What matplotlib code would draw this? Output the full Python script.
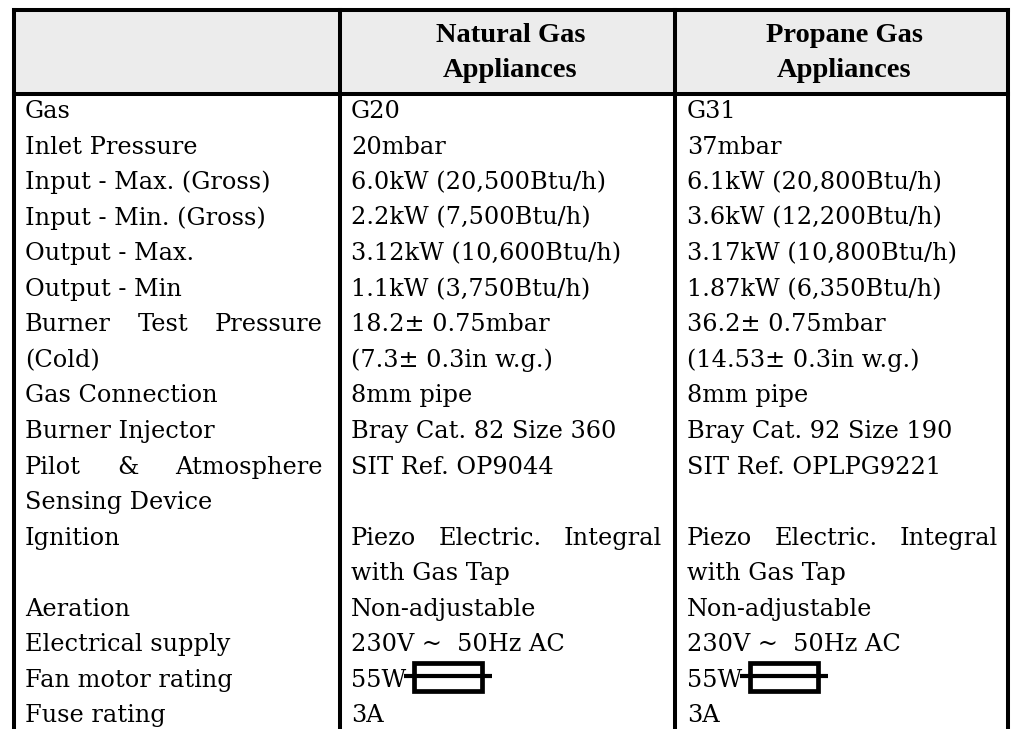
import matplotlib.pyplot as plt
from matplotlib.patches import Rectangle

# table content
header = ["", "Natural Gas\nAppliances", "Propane Gas\nAppliances"]
labels = [["Gas"], ["Inlet Pressure"], ["Input - Max. (Gross)"],
          ["Input - Min. (Gross)"], ["Output - Max."], ["Output - Min"],
          ["Burner Test Pressure", "(Cold)"], ["Gas Connection"],
          ["Burner Injector"], ["Pilot & Atmosphere", "Sensing Device"],
          ["Ignition"], ["Aeration"], ["Electrical supply"],
          ["Fan motor rating"], ["Fuse rating"]]
natural = [["G20"], ["20mbar"], ["6.0kW (20,500Btu/h)"], ["2.2kW (7,500Btu/h)"],
           ["3.12kW (10,600Btu/h)"], ["1.1kW (3,750Btu/h)"],
           ["18.2\u00b1 0.75mbar", "(7.3\u00b1 0.3in w.g.)"], ["8mm pipe"],
           ["Bray Cat. 82 Size 360"], ["SIT Ref. OP9044"],
           ["Piezo Electric. Integral", "with Gas Tap"], ["Non-adjustable"],
           ["230V ~  50Hz AC"], ["55W"], ["3A"]]
propane = [["G31"], ["37mbar"], ["6.1kW (20,800Btu/h)"], ["3.6kW (12,200Btu/h)"],
           ["3.17kW (10,800Btu/h)"], ["1.87kW (6,350Btu/h)"],
           ["36.2\u00b1 0.75mbar", "(14.53\u00b1 0.3in w.g.)"], ["8mm pipe"],
           ["Bray Cat. 92 Size 190"], ["SIT Ref. OPLPG9221"],
           ["Piezo Electric. Integral", "with Gas Tap"], ["Non-adjustable"],
           ["230V ~  50Hz AC"], ["55W"], ["3A"]]
justified = {"Burner Test Pressure", "Pilot & Atmosphere", "Piezo Electric. Integral"}
fuse_text = "55W"

W, H = 1013, 729
col_edges = [14, 340, 675, 1008]
text_left = [25, 351, 687]
text_right = [323, 662, 998]
top, head_bottom = 10, 94
first_base, line_h = 118, 35.55
body_font = dict(family="DejaVu Serif", fontsize=17.3)
head_font = dict(family="Liberation Serif", fontsize=20.5, fontweight="bold")

fig = plt.figure(figsize=(W / 100, H / 100), dpi=100)
ax = fig.add_axes([0, 0, 1, 1])
ax.set_xlim(0, W)
ax.set_ylim(H, 0)
ax.axis("off")
renderer = fig.canvas.get_renderer()


def text_width(s):
    t = ax.text(0, 0, s, **body_font)
    bb = t.get_window_extent(renderer)
    t.remove()
    return bb.width


def draw_line(s, col, y):
    x0, x1 = text_left[col], text_right[col]
    if s in justified:
        words = s.split()
        widths = [text_width(w) for w in words]
        gap = (x1 - x0 - sum(widths)) / (len(words) - 1)
        x = x0
        for w, wd in zip(words, widths):
            ax.text(x, y, w, va="baseline", ha="left", **body_font)
            x += wd + gap
    else:
        ax.text(x0, y, s, va="baseline", ha="left", **body_font)
        if s == fuse_text:
            # fuse symbol after the motor rating
            xs = x0 + text_width(s) - 2
            ax.plot([xs, xs + 88], [y - 11, y - 11], color="black", lw=3.0,
                    solid_capstyle="butt", zorder=3)
            ax.add_patch(Rectangle((xs + 10, y - 24), 68, 28, fill=False,
                                   ec="black", lw=3.4, zorder=3))


# header background and text
ax.add_patch(Rectangle((col_edges[0], top), col_edges[3] - col_edges[0],
                       head_bottom - top, color="#ececec", zorder=0))
for c in (1, 2):
    cx = (col_edges[c] + col_edges[c + 1]) / 2 + 3
    l1, l2 = header[c].split("\n")
    ax.text(cx, 42, l1, ha="center", va="baseline", **head_font)
    ax.text(cx, 77, l2, ha="center", va="baseline", **head_font)

# body rows
line = 0
for lab, nat, pro in zip(labels, natural, propane):
    for col, cell in enumerate((lab, nat, pro)):
        for k, s in enumerate(cell):
            draw_line(s, col, first_base + (line + k) * line_h)
    line += max(len(lab), len(nat), len(pro))

# grid lines
lw = 2.9
ax.plot([col_edges[0], col_edges[3]], [top, top], color="black", lw=lw,
        solid_capstyle="projecting")
ax.plot([col_edges[0], col_edges[3]], [head_bottom, head_bottom], color="black", lw=lw)
for x in col_edges:
    ax.plot([x, x], [top, H + 5], color="black", lw=lw, solid_capstyle="projecting")

fig.savefig("out.png", dpi=100)
